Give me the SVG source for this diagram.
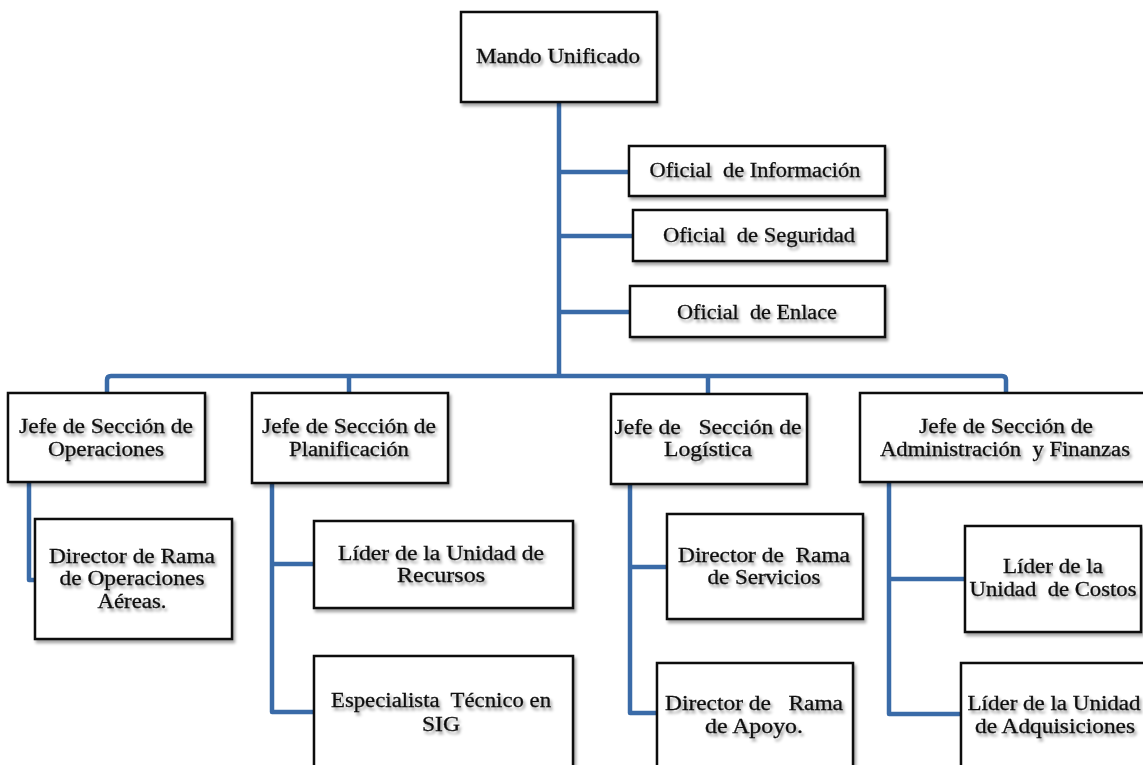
<svg xmlns="http://www.w3.org/2000/svg" width="1143" height="765" viewBox="0 0 1143 765">
<defs>
<filter id="bs" x="-10%" y="-10%" width="130%" height="130%"><feDropShadow dx="2" dy="3" stdDeviation="1.5" flood-color="#000" flood-opacity="0.35"/></filter>
<filter id="ts" x="-10%" y="-30%" width="130%" height="180%"><feDropShadow dx="2" dy="3" stdDeviation="1.8" flood-color="#000" flood-opacity="0.4"/></filter>
</defs>
<style>
.box{fill:#fff;stroke:#111;stroke-width:2.5;filter:url(#bs)}
.t{font-family:"Liberation Serif","Times New Roman",serif;font-size:20px;fill:#111;stroke:#111;stroke-width:0.3;text-anchor:middle;filter:url(#ts)}
.c{fill:none;stroke:#3A6BA8;stroke-width:4.5;stroke-linejoin:round;stroke-linecap:butt}
</style>
<rect width="1143" height="765" fill="#fff"/>
<g id="connectors">
<path class="c" d="M559,102 V376"/>
<path class="c" d="M559,172 H629"/>
<path class="c" d="M559,236 H633"/>
<path class="c" d="M559,312 H630"/>
<path class="c" d="M107,393 V380 Q107,376 111,376 H1002 Q1006,376 1006,380 V393"/>
<path class="c" d="M349,376 V393"/>
<path class="c" d="M708,376 V394"/>
<path class="c" d="M29,482 V580 H35"/>
<path class="c" d="M272,483 V712 H314"/>
<path class="c" d="M272,564 H314"/>
<path class="c" d="M630,484 V713 H657"/>
<path class="c" d="M630,567 H667"/>
<path class="c" d="M889,482 V714 H961"/>
<path class="c" d="M889,579 H965"/>
</g>
<g id="mando"><rect class="box" x="461" y="12" width="196" height="90"/><text class="t" x="558" y="63" textLength="164" lengthAdjust="spacingAndGlyphs">Mando Unificado</text></g>
<g id="info"><rect class="box" x="629" y="146" width="256" height="50"/><text class="t" x="755" y="177" textLength="211" lengthAdjust="spacingAndGlyphs" xml:space="preserve">Oficial  de Información</text></g>
<g id="seguridad"><rect class="box" x="633" y="210" width="254" height="51"/><text class="t" x="759" y="242" textLength="192" lengthAdjust="spacingAndGlyphs" xml:space="preserve">Oficial  de Seguridad</text></g>
<g id="enlace"><rect class="box" x="630" y="286" width="255" height="51"/><text class="t" x="757" y="319" textLength="160" lengthAdjust="spacingAndGlyphs" xml:space="preserve">Oficial  de Enlace</text></g>
<g id="operaciones"><rect class="box" x="8" y="393" width="197" height="89"/><text class="t" x="106" y="433" textLength="174" lengthAdjust="spacingAndGlyphs">Jefe de Sección de</text><text class="t" x="106" y="456" textLength="116" lengthAdjust="spacingAndGlyphs">Operaciones</text></g>
<g id="planificacion"><rect class="box" x="252" y="393" width="196" height="90"/><text class="t" x="349" y="433" textLength="174" lengthAdjust="spacingAndGlyphs">Jefe de Sección de</text><text class="t" x="349" y="456" textLength="120" lengthAdjust="spacingAndGlyphs">Planificación</text></g>
<g id="logistica"><rect class="box" x="611" y="394" width="196" height="90"/><text class="t" x="708" y="434" textLength="187" lengthAdjust="spacingAndGlyphs" xml:space="preserve">Jefe de   Sección de</text><text class="t" x="708" y="456" textLength="88" lengthAdjust="spacingAndGlyphs">Logística</text></g>
<g id="administracion"><rect class="box" x="860" y="393" width="290" height="89"/><text class="t" x="1006" y="433" textLength="174" lengthAdjust="spacingAndGlyphs">Jefe de Sección de</text><text class="t" x="1005" y="456" textLength="250" lengthAdjust="spacingAndGlyphs" xml:space="preserve">Administración  y Finanzas</text></g>
<g id="dir-op-aereas"><rect class="box" x="35" y="519" width="197" height="120"/><text class="t" x="132" y="563" textLength="166" lengthAdjust="spacingAndGlyphs">Director de Rama</text><text class="t" x="132" y="585" textLength="145" lengthAdjust="spacingAndGlyphs">de Operaciones</text><text class="t" x="132" y="608" textLength="69" lengthAdjust="spacingAndGlyphs">Aéreas.</text></g>
<g id="lider-recursos"><rect class="box" x="314" y="521" width="259" height="87"/><text class="t" x="441" y="560" textLength="206" lengthAdjust="spacingAndGlyphs">Líder de la Unidad de</text><text class="t" x="441" y="582" textLength="88" lengthAdjust="spacingAndGlyphs">Recursos</text></g>
<g id="especialista"><rect class="box" x="314" y="656" width="259" height="130"/><text class="t" x="441" y="707" textLength="220" lengthAdjust="spacingAndGlyphs" xml:space="preserve">Especialista  Técnico en</text><text class="t" x="441" y="731" textLength="38" lengthAdjust="spacingAndGlyphs">SIG</text></g>
<g id="dir-servicios"><rect class="box" x="667" y="514" width="196" height="105"/><text class="t" x="764" y="562" textLength="172" lengthAdjust="spacingAndGlyphs" xml:space="preserve">Director de  Rama</text><text class="t" x="764" y="584" textLength="113" lengthAdjust="spacingAndGlyphs">de Servicios</text></g>
<g id="dir-apoyo"><rect class="box" x="657" y="663" width="196" height="130"/><text class="t" x="754" y="710" textLength="178" lengthAdjust="spacingAndGlyphs" xml:space="preserve">Director de   Rama</text><text class="t" x="754" y="733" textLength="98" lengthAdjust="spacingAndGlyphs">de Apoyo.</text></g>
<g id="lider-costos"><rect class="box" x="965" y="526" width="176" height="106"/><text class="t" x="1053" y="573" textLength="100" lengthAdjust="spacingAndGlyphs">Líder de la</text><text class="t" x="1053" y="596" textLength="167" lengthAdjust="spacingAndGlyphs" xml:space="preserve">Unidad  de Costos</text></g>
<g id="lider-adquisiciones"><rect class="box" x="961" y="663" width="200" height="130"/><text class="t" x="1054" y="710" textLength="173" lengthAdjust="spacingAndGlyphs">Líder de la Unidad</text><text class="t" x="1055" y="733" textLength="160" lengthAdjust="spacingAndGlyphs">de Adquisiciones</text></g>
</svg>
